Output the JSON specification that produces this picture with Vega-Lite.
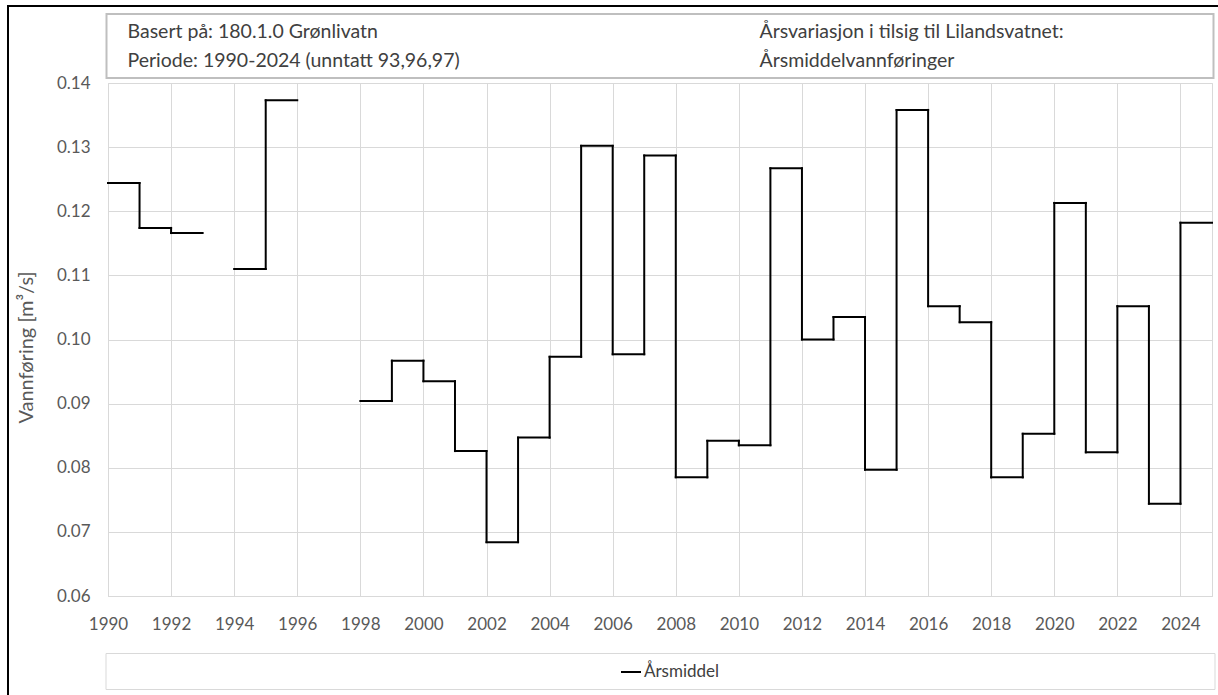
{
  "$schema": "https://vega.github.io/schema/vega-lite/v6.json",
  "background": "white",
  "padding": {"left": 7, "top": 5, "right": 0, "bottom": 0},
  "autosize": {"type": "pad"},
  "config": {"font": "Lato", "view": {"stroke": null}},
  "datasets": {
    "aarsmiddel": [
      {"aar": 1990, "til": 1991, "q": 0.1244},
      {"aar": 1991, "til": 1992, "q": 0.1174},
      {"aar": 1992, "til": 1993, "q": 0.1166},
      {"aar": 1994, "til": 1995, "q": 0.1110},
      {"aar": 1995, "til": 1996, "q": 0.1373},
      {"aar": 1998, "til": 1999, "q": 0.0904},
      {"aar": 1999, "til": 2000, "q": 0.0967},
      {"aar": 2000, "til": 2001, "q": 0.0935},
      {"aar": 2001, "til": 2002, "q": 0.0826},
      {"aar": 2002, "til": 2003, "q": 0.0684},
      {"aar": 2003, "til": 2004, "q": 0.0847},
      {"aar": 2004, "til": 2005, "q": 0.0973},
      {"aar": 2005, "til": 2006, "q": 0.1302},
      {"aar": 2006, "til": 2007, "q": 0.0977},
      {"aar": 2007, "til": 2008, "q": 0.1287},
      {"aar": 2008, "til": 2009, "q": 0.0785},
      {"aar": 2009, "til": 2010, "q": 0.0842},
      {"aar": 2010, "til": 2011, "q": 0.0835},
      {"aar": 2011, "til": 2012, "q": 0.1267},
      {"aar": 2012, "til": 2013, "q": 0.1000},
      {"aar": 2013, "til": 2014, "q": 0.1035},
      {"aar": 2014, "til": 2015, "q": 0.0797},
      {"aar": 2015, "til": 2016, "q": 0.1358},
      {"aar": 2016, "til": 2017, "q": 0.1052},
      {"aar": 2017, "til": 2018, "q": 0.1027},
      {"aar": 2018, "til": 2019, "q": 0.0785},
      {"aar": 2019, "til": 2020, "q": 0.0853},
      {"aar": 2020, "til": 2021, "q": 0.1213},
      {"aar": 2021, "til": 2022, "q": 0.0824},
      {"aar": 2022, "til": 2023, "q": 0.1052},
      {"aar": 2023, "til": 2024, "q": 0.0744},
      {"aar": 2024, "til": 2025, "q": 0.1182}
    ],
    "topptekst": [
      {"kolonne": "venstre", "linje": 1, "tekst": "Basert på: 180.1.0 Grønlivatn"},
      {"kolonne": "venstre", "linje": 2, "tekst": "Periode: 1990-2024 (unntatt 93,96,97)"},
      {"kolonne": "høyre", "linje": 1, "tekst": "Årsvariasjon i tilsig til Lilandsvatnet:"},
      {"kolonne": "høyre", "linje": 2, "tekst": "Årsmiddelvannføringer"}
    ]
  },
  "spacing": 0,
  "bounds": "full",
  "hconcat": [
    {
      "width": 2, "height": 690,
      "view": {"fill": "#000000", "stroke": null},
      "data": {"values": []},
      "mark": "text"
    },
    {
      "spacing": 6,
      "bounds": "full",
      "vconcat": [
        {
          "width": 1209, "height": 2,
          "view": {"fill": "#000000", "stroke": null},
          "data": {"values": []},
          "mark": "text"
        },
        {
          "spacing": 5.5,
          "bounds": "full",
          "hconcat": [
            {
              "width": 1, "height": 1,
              "data": {"values": []},
              "mark": "text"
            },
            {
              "spacing": 5,
              "bounds": "flush",
              "center": true,
              "vconcat": [
                {
                  "width": 1107, "height": 64,
                  "view": {"stroke": "#bfbfbf", "strokeWidth": 2, "fill": null},
                  "data": {"name": "topptekst"},
                  "mark": {"type": "text", "align": "left", "baseline": "middle", "font": "Lato", "fontSize": 19.5, "color": "#404040"},
                  "encoding": {
                    "x": {"field": "kolonne", "type": "nominal", "scale": {"type": "point", "domain": ["venstre", "høyre"], "range": [21, 653], "padding": 0}, "axis": null},
                    "y": {"field": "linje", "type": "ordinal", "scale": {"type": "point", "domain": [1, 2], "range": [18, 47], "padding": 0}, "axis": null},
                    "text": {"field": "tekst"}
                  }
                },
                {
                  "width": 1104, "height": 513,
                  "view": {"stroke": "#d9d9d9"},
                  "data": {"name": "aarsmiddel"},
                  "layer": [
                    {
                      "mark": {"type": "rule", "strokeWidth": 2, "strokeCap": "square"},
                      "encoding": {
                        "x": {
                          "field": "aar", "type": "quantitative",
                          "scale": {"domain": [1990, 2025], "nice": false, "zero": false},
                          "axis": {
                            "title": null, "values": [1990, 1992, 1994, 1996, 1998, 2000, 2002, 2004, 2006, 2008, 2010, 2012, 2014, 2016, 2018, 2020, 2022, 2024],
                            "format": "d", "grid": true, "gridColor": "#d9d9d9", "domain": true, "domainColor": "#d9d9d9",
                            "ticks": false, "tickSize": 0, "labelPadding": 20, "labelFont": "Lato", "labelFontSize": 17,
                            "labelColor": "#595959", "labelFlush": false, "labelOverlap": false
                          }
                        },
                        "x2": {"field": "til"},
                        "y": {
                          "field": "q", "type": "quantitative", "title": "Vannføring [m³/s]",
                          "scale": {"domain": [0.06, 0.14], "nice": false, "zero": false},
                          "axis": {
                            "title": "Vannføring [m³/s]", "values": [0.06, 0.07, 0.08, 0.09, 0.1, 0.11, 0.12, 0.13, 0.14],
                            "format": ".2f", "grid": true, "gridColor": "#d9d9d9", "domain": false,
                            "ticks": false, "tickSize": 0, "labelPadding": 18, "labelFont": "Lato", "labelFontSize": 17,
                            "labelColor": "#595959", "titleFont": "Lato", "titleFontSize": 20, "titleFontWeight": "normal",
                            "titleColor": "#595959", "titlePadding": 20, "titleY": 264
                          }
                        },
                        "stroke": {
                          "datum": "Årsmiddel", "type": "nominal",
                          "scale": {"domain": ["Årsmiddel"], "range": ["#000000"]},
                          "legend": {
                            "title": null, "orient": "none", "legendX": 613, "legendY": 656,
                            "symbolType": "stroke", "symbolStrokeWidth": 2, "symbolSize": 400,
                            "labelFont": "Lato", "labelFontSize": 17, "labelColor": "#404040", "labelOffset": 2, "padding": 0
                          }
                        }
                      }
                    },
                    {
                      "transform": [
                        {"window": [{"op": "lag", "field": "q", "as": "forrige"}, {"op": "lag", "field": "til", "as": "forrigeTil"}], "sort": [{"field": "aar"}]},
                        {"filter": "datum.forrigeTil === datum.aar"}
                      ],
                      "mark": {"type": "rule", "strokeWidth": 2, "strokeCap": "square"},
                      "encoding": {
                        "x": {"field": "aar", "type": "quantitative", "scale": {"domain": [1990, 2025], "nice": false, "zero": false}},
                        "y": {"field": "forrige", "type": "quantitative", "title": "Vannføring [m³/s]", "scale": {"domain": [0.06, 0.14], "nice": false, "zero": false}},
                        "y2": {"field": "q"},
                        "stroke": {"datum": "Årsmiddel", "type": "nominal"}
                      }
                    }
                  ]
                },
                {
                  "width": 1104, "height": 47,
                  "data": {"values": []},
                  "mark": "text"
                },
                {
                  "width": 1109, "height": 36,
                  "view": {"stroke": "#d9d9d9", "fill": null},
                  "data": {"values": []},
                  "mark": "text"
                }
              ]
            }
          ]
        }
      ]
    }
  ]
}
